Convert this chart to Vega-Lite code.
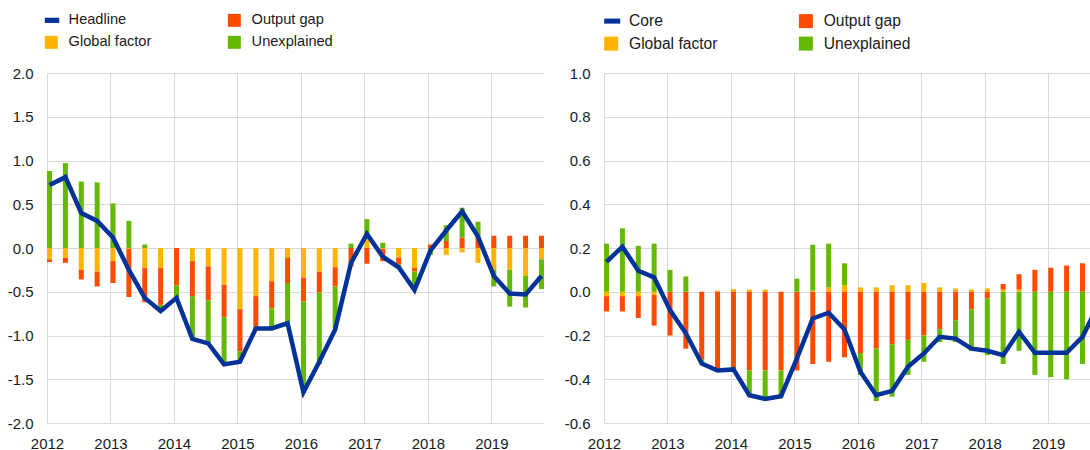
{
  "$schema": "https://vega.github.io/schema/vega-lite/v6.json",
  "padding": {"left": 0, "top": 13, "right": 0, "bottom": 0},
  "spacing": 6,
  "config": {
    "view": {"stroke": null},
    "font": "Liberation Sans",
    "axis": {"domain": false, "ticks": false, "grid": true, "gridColor": "#d9d9d9", "gridWidth": 1, "labelFont": "Liberation Sans", "labelFontSize": 15, "labelColor": "#1a1a1a", "title": null}
  },
  "datasets": {
    "left": [
      {"t": 2012.04, "Global factor": -0.13, "Output gap": -0.03, "Unexplained": 0.88, "line": 0.72},
      {"t": 2012.29, "Global factor": -0.11, "Output gap": -0.06, "Unexplained": 0.97, "line": 0.81},
      {"t": 2012.54, "Global factor": -0.25, "Output gap": -0.11, "Unexplained": 0.76, "line": 0.40},
      {"t": 2012.79, "Global factor": -0.27, "Output gap": -0.17, "Unexplained": 0.75, "line": 0.31},
      {"t": 2013.04, "Global factor": -0.15, "Output gap": -0.25, "Unexplained": 0.51, "line": 0.12},
      {"t": 2013.29, "Global factor": -0.01, "Output gap": -0.55, "Unexplained": 0.31, "line": -0.25},
      {"t": 2013.54, "Global factor": -0.23, "Output gap": -0.39, "Unexplained": 0.04, "line": -0.57},
      {"t": 2013.79, "Global factor": -0.23, "Output gap": -0.42, "Unexplained": -0.08, "line": -0.72},
      {"t": 2014.04, "Global factor": 0, "Output gap": -0.43, "Unexplained": -0.14, "line": -0.57},
      {"t": 2014.29, "Global factor": -0.15, "Output gap": -0.40, "Unexplained": -0.48, "line": -1.04},
      {"t": 2014.54, "Global factor": -0.21, "Output gap": -0.39, "Unexplained": -0.49, "line": -1.09},
      {"t": 2014.79, "Global factor": -0.42, "Output gap": -0.37, "Unexplained": -0.55, "line": -1.33},
      {"t": 2015.04, "Global factor": -0.70, "Output gap": -0.48, "Unexplained": -0.12, "line": -1.30},
      {"t": 2015.29, "Global factor": -0.55, "Output gap": -0.35, "Unexplained": -0.02, "line": -0.92},
      {"t": 2015.54, "Global factor": -0.38, "Output gap": -0.31, "Unexplained": -0.22, "line": -0.92},
      {"t": 2015.79, "Global factor": -0.11, "Output gap": -0.29, "Unexplained": -0.45, "line": -0.86},
      {"t": 2016.04, "Global factor": -0.34, "Output gap": -0.27, "Unexplained": -1.05, "line": -1.65},
      {"t": 2016.29, "Global factor": -0.27, "Output gap": -0.24, "Unexplained": -0.82, "line": -1.30},
      {"t": 2016.54, "Global factor": -0.22, "Output gap": -0.22, "Unexplained": -0.48, "line": -0.93},
      {"t": 2016.79, "Global factor": 0, "Output gap": -0.21, "Unexplained": 0.05, "line": -0.17},
      {"t": 2017.04, "Global factor": 0.10, "Output gap": -0.18, "Unexplained": 0.23, "line": 0.16},
      {"t": 2017.29, "Global factor": -0.01, "Output gap": -0.14, "Unexplained": 0.06, "line": -0.10},
      {"t": 2017.54, "Global factor": -0.11, "Output gap": -0.08, "Unexplained": -0.04, "line": -0.22},
      {"t": 2017.79, "Global factor": -0.23, "Output gap": -0.04, "Unexplained": -0.21, "line": -0.48},
      {"t": 2018.04, "Global factor": 0, "Output gap": 0.04, "Unexplained": -0.08, "line": -0.03},
      {"t": 2018.29, "Global factor": -0.08, "Output gap": 0.08, "Unexplained": 0.18, "line": 0.20},
      {"t": 2018.54, "Global factor": -0.05, "Output gap": 0.12, "Unexplained": 0.34, "line": 0.42},
      {"t": 2018.79, "Global factor": -0.17, "Output gap": 0.13, "Unexplained": 0.17, "line": 0.13},
      {"t": 2019.04, "Global factor": -0.25, "Output gap": 0.14, "Unexplained": -0.19, "line": -0.32},
      {"t": 2019.29, "Global factor": -0.25, "Output gap": 0.14, "Unexplained": -0.42, "line": -0.52},
      {"t": 2019.54, "Global factor": -0.32, "Output gap": 0.14, "Unexplained": -0.36, "line": -0.53},
      {"t": 2019.79, "Global factor": -0.13, "Output gap": 0.14, "Unexplained": -0.34, "line": -0.32}
    ],
    "right": [
      {"t": 2012.04, "Global factor": -0.02, "Output gap": -0.07, "Unexplained": 0.22, "line": 0.137},
      {"t": 2012.29, "Global factor": -0.02, "Output gap": -0.07, "Unexplained": 0.29, "line": 0.206},
      {"t": 2012.54, "Global factor": -0.02, "Output gap": -0.10, "Unexplained": 0.21, "line": 0.096},
      {"t": 2012.79, "Global factor": -0.015, "Output gap": -0.14, "Unexplained": 0.22, "line": 0.066},
      {"t": 2013.04, "Global factor": 0, "Output gap": -0.20, "Unexplained": 0.10, "line": -0.084},
      {"t": 2013.29, "Global factor": 0, "Output gap": -0.26, "Unexplained": 0.07, "line": -0.19},
      {"t": 2013.54, "Global factor": 0, "Output gap": -0.31, "Unexplained": -0.02, "line": -0.328},
      {"t": 2013.79, "Global factor": 0.005, "Output gap": -0.35, "Unexplained": -0.01, "line": -0.36},
      {"t": 2014.04, "Global factor": 0.012, "Output gap": -0.35, "Unexplained": -0.01, "line": -0.355},
      {"t": 2014.29, "Global factor": 0.01, "Output gap": -0.36, "Unexplained": -0.12, "line": -0.473},
      {"t": 2014.54, "Global factor": 0.01, "Output gap": -0.36, "Unexplained": -0.13, "line": -0.49},
      {"t": 2014.79, "Global factor": 0, "Output gap": -0.36, "Unexplained": -0.12, "line": -0.478},
      {"t": 2015.04, "Global factor": 0, "Output gap": -0.36, "Unexplained": 0.06, "line": -0.305},
      {"t": 2015.29, "Global factor": 0.005, "Output gap": -0.33, "Unexplained": 0.21, "line": -0.122},
      {"t": 2015.54, "Global factor": 0.02, "Output gap": -0.32, "Unexplained": 0.20, "line": -0.096},
      {"t": 2015.79, "Global factor": 0.03, "Output gap": -0.30, "Unexplained": 0.10, "line": -0.172},
      {"t": 2016.04, "Global factor": 0.02, "Output gap": -0.28, "Unexplained": -0.10, "line": -0.366},
      {"t": 2016.29, "Global factor": 0.02, "Output gap": -0.26, "Unexplained": -0.24, "line": -0.473},
      {"t": 2016.54, "Global factor": 0.03, "Output gap": -0.24, "Unexplained": -0.24, "line": -0.453},
      {"t": 2016.79, "Global factor": 0.03, "Output gap": -0.22, "Unexplained": -0.16, "line": -0.343},
      {"t": 2017.04, "Global factor": 0.04, "Output gap": -0.20, "Unexplained": -0.12, "line": -0.282},
      {"t": 2017.29, "Global factor": 0.02, "Output gap": -0.17, "Unexplained": -0.06, "line": -0.206},
      {"t": 2017.54, "Global factor": 0.015, "Output gap": -0.13, "Unexplained": -0.10, "line": -0.214},
      {"t": 2017.79, "Global factor": 0.01, "Output gap": -0.08, "Unexplained": -0.19, "line": -0.26},
      {"t": 2018.04, "Global factor": 0.015, "Output gap": -0.03, "Unexplained": -0.26, "line": -0.27},
      {"t": 2018.29, "Global factor": 0.01, "Output gap": 0.025, "Unexplained": -0.33, "line": -0.29},
      {"t": 2018.54, "Global factor": 0.01, "Output gap": 0.07, "Unexplained": -0.27, "line": -0.183},
      {"t": 2018.79, "Global factor": 0, "Output gap": 0.10, "Unexplained": -0.38, "line": -0.279},
      {"t": 2019.04, "Global factor": 0, "Output gap": 0.11, "Unexplained": -0.39, "line": -0.279},
      {"t": 2019.29, "Global factor": 0, "Output gap": 0.12, "Unexplained": -0.40, "line": -0.279},
      {"t": 2019.54, "Global factor": 0, "Output gap": 0.13, "Unexplained": -0.33, "line": -0.206},
      {"t": 2019.79, "Global factor": 0, "Output gap": 0.14, "Unexplained": -0.20, "line": -0.06}
    ]
  },
  "hconcat": [
    {
      "width": 497,
      "height": 350,
      "data": {"name": "left"},
      "layer": [
        {
          "transform": [{"fold": ["Global factor", "Output gap", "Unexplained"], "as": ["factor", "value"]}],
          "mark": {"type": "bar", "width": 5},
          "encoding": {
            "x": {"field": "t", "type": "quantitative", "scale": {"domain": [2012, 2019.83], "nice": false, "zero": false, "padding": 0},
              "axis": {"values": [2012, 2013, 2014, 2015, 2016, 2017, 2018, 2019], "format": "d", "labelFlush": false, "labelOverlap": false, "labelPadding": 13, "title": null}},
            "y": {"field": "value", "type": "quantitative", "stack": "zero", "scale": {"domain": [-2, 2], "nice": false, "zero": false},
              "axis": {"values": [-2, -1.5, -1, -0.5, 0, 0.5, 1, 1.5, 2], "labelExpr": "replace(format(datum.value, '.1f'), '\u2212', '-')", "labelPadding": 14, "minExtent": 47, "maxExtent": 47, "title": null}},
            "color": {"field": "factor", "type": "nominal",
              "scale": {"domain": ["Headline", "Global factor", "Output gap", "Unexplained"], "range": ["#003299", "#FFB400", "#FF4B00", "#65B800"]},
              "legend": {"orient": "none", "legendX": -3, "legendY": -60, "columns": 2, "columnPadding": 75, "rowPadding": 7, "title": null, "padding": 0,
                "symbolType": "square", "symbolSize": 169, "symbolStrokeWidth": 0, "labelFontSize": 14.6, "labelFont": "Liberation Sans", "labelColor": "#1a1a1a", "labelOffset": 10,
                "encode": {"symbols": {"update": {"shape": {"signal": "datum.value === 'Headline' ? 'M-1,-0.4H1.22V0.4H-1Z' : 'square'"}}}}}},
            "order": {"field": "factor", "sort": "ascending"}
          }
        },
        {
          "mark": {"type": "line", "color": "#003299", "strokeWidth": 4.5},
          "encoding": {
            "x": {"field": "t", "type": "quantitative"},
            "y": {"field": "line", "type": "quantitative"}
          }
        }
      ]
    },
    {
      "width": 488,
      "height": 350,
      "data": {"name": "right"},
      "layer": [
        {
          "transform": [{"fold": ["Global factor", "Output gap", "Unexplained"], "as": ["factor", "value"]}],
          "mark": {"type": "bar", "width": 5, "clip": true},
          "encoding": {
            "x": {"field": "t", "type": "quantitative", "scale": {"domain": [2012, 2019.69], "nice": false, "zero": false, "padding": 0},
              "axis": {"values": [2012, 2013, 2014, 2015, 2016, 2017, 2018, 2019], "format": "d", "labelFlush": false, "labelOverlap": false, "labelPadding": 13, "title": null}},
            "y": {"field": "value", "type": "quantitative", "stack": "zero", "scale": {"domain": [-0.6, 1.0], "nice": false, "zero": false},
              "axis": {"values": [-0.6, -0.4, -0.2, 0, 0.2, 0.4, 0.6, 0.8, 1.0], "labelExpr": "replace(format(datum.value, '.1f'), '\u2212', '-')", "labelPadding": 14, "minExtent": 47, "maxExtent": 47, "title": null}},
            "color": {"field": "factor", "type": "nominal",
              "scale": {"domain": ["Core", "Global factor", "Output gap", "Unexplained"], "range": ["#003299", "#FFB400", "#FF4B00", "#65B800"]},
              "legend": {"orient": "none", "legendX": -0.6, "legendY": -60, "columns": 2, "columnPadding": 79.7, "rowPadding": 5.8, "title": null, "padding": 0,
                "symbolType": "square", "symbolSize": 196, "symbolStrokeWidth": 0, "labelFontSize": 15.6, "labelFont": "Liberation Sans", "labelColor": "#1a1a1a", "labelOffset": 10,
                "encode": {"symbols": {"update": {"shape": {"signal": "datum.value === 'Core' ? 'M-1,-0.36H1.29V0.36H-1Z' : 'square'"}}}}}},
            "order": {"field": "factor", "sort": "ascending"}
          }
        },
        {
          "mark": {"type": "line", "color": "#003299", "strokeWidth": 4.5, "clip": true},
          "encoding": {
            "x": {"field": "t", "type": "quantitative"},
            "y": {"field": "line", "type": "quantitative"}
          }
        }
      ]
    }
  ],
  "resolve": {"scale": {"color": "independent", "x": "independent", "y": "independent"}, "legend": {"color": "independent"}}
}
